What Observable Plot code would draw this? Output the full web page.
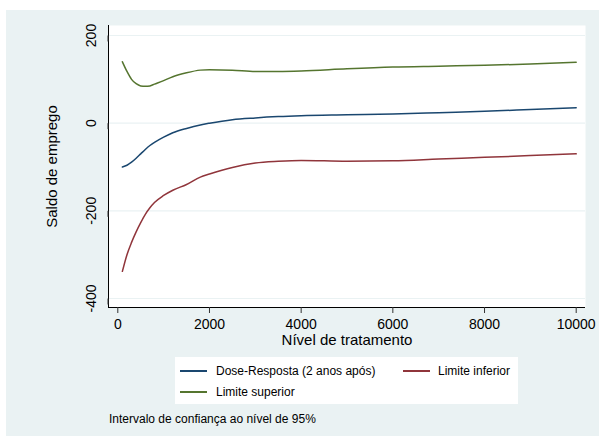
<!DOCTYPE html>
<html>
<head>
<meta charset="utf-8">
<script src="https://cdn.jsdelivr.net/npm/d3@7"></script>
<script src="https://cdn.jsdelivr.net/npm/@observablehq/plot@0.6"></script>
<style>
  html, body { margin: 0; padding: 0; background: #fff; }
  #wrap { position: relative; width: 599px; height: 436px; overflow: hidden; background: #fff;
          font-family: "Liberation Sans", Arial, sans-serif; color: #000; }
  #bg { position: absolute; left: 6px; top: 10px; width: 593px; height: 426px; background: #eaf2f3; }
  #chart { position: absolute; left: 0; top: 0; }
  #chart svg { background: transparent !important; }
  #legend { position: absolute; left: 175px; top: 357px; width: 343px; height: 47px; background: #fff; }
  .sw { position: absolute; height: 1.6px; width: 27px; }
  .lt { position: absolute; font-size: 12px; line-height: 14px; white-space: nowrap; }
  #caption { position: absolute; left: 109px; top: 412px; font-size: 12px; line-height: 14px; white-space: nowrap; }
</style>
</head>
<body>
<div id="wrap">
  <div id="bg"></div>
  <div id="chart"></div>
  <div id="legend"></div>
  <div id="caption"></div>
</div>
<script>
// ---- Data ----
const nivel = [100, 200, 300, 400, 500, 600, 700, 800, 1000, 1200, 1500, 1800, 2000, 2500, 3000, 3500, 4000, 5000, 6000, 7000, 8000, 9000, 10000];
const doseResposta = [-100, -96, -89, -80, -70, -60, -51, -44, -32, -22, -12, -4, 0, 8, 12, 15, 17, 19, 21, 24, 27, 31, 35];
const limiteInferior = [-338, -300, -272, -248, -227, -208, -193, -181, -165, -153, -140, -123, -116, -101, -91, -87, -85, -87, -86, -82, -78, -74, -70];
const limiteSuperior = [140, 118, 100, 90, 85, 84, 85, 89, 97, 106, 115, 121, 122, 121, 118, 118, 119, 124, 128, 130, 132, 135, 139];

const xTicks = [0, 2000, 4000, 6000, 8000, 10000];
const yTicks = [200, 0, -200, -400];

const seriesNames = ["Dose-Resposta (2 anos após)", "Limite inferior", "Limite superior"];
const seriesColors = ["#1a476f", "#90353b", "#55752f"];
const xTitle = "Nível de tratamento";
const yTitle = "Saldo de emprego";
const captionText = "Intervalo de confiança ao nível de 95%";

const seriesValues = [doseResposta, limiteInferior, limiteSuperior];
const rows = seriesNames.flatMap((s, i) => nivel.map((x, j) => ({serie: s, x, y: seriesValues[i][j]})));

const font = '"Liberation Sans", Arial, sans-serif';

const chart = Plot.plot({
  width: 599,
  height: 352,
  marginLeft: 108,
  marginRight: 14,
  marginTop: 25,
  marginBottom: 45,
  style: {fontFamily: font, background: "transparent", color: "#000"},
  x: {domain: [-203, 10203]},
  y: {domain: [-420.5, 222.8]},
  color: {domain: seriesNames, range: seriesColors},
  marks: [
    Plot.frame({fill: "#fff", stroke: "none"}),
    Plot.gridY(yTicks, {stroke: "#eaf2f3", strokeOpacity: 1, strokeWidth: 1.2}),
    Plot.ruleX([-203], {stroke: "#000", strokeWidth: 1}),
    Plot.ruleY([-420.5], {stroke: "#000", strokeWidth: 1}),
    Plot.axisX({ticks: xTicks, tickSize: 6, tickPadding: 5.5, tickFormat: d => String(d),
                fontSize: 14, label: null, stroke: "#333"}),
    Plot.axisY({ticks: yTicks, tickSize: 6, tickPadding: 11, tickFormat: d => String(d),
                fontSize: 14, rotate: -90, textAnchor: "middle", label: null, stroke: "#333"}),
    Plot.line(rows, {x: "x", y: "y", z: "serie", stroke: "serie", strokeWidth: 1.5, curve: "monotone-x"}),
    Plot.text([xTitle], {frameAnchor: "bottom", dy: 33, lineAnchor: "middle", textAnchor: "middle", fontSize: 15, fill: "#000"}),
    Plot.text([yTitle], {frameAnchor: "left", dx: -56, rotate: -90, lineAnchor: "middle", textAnchor: "middle", fontSize: 15, fill: "#000"})
  ]
});
document.getElementById("chart").appendChild(chart);

// ---- Legend (HTML, below the SVG) ----
const legend = document.getElementById("legend");
const legendPos = [
  {sx: 5, tx: 41, cy: 14},     // Dose-Resposta
  {sx: 228, tx: 263, cy: 14},  // Limite inferior
  {sx: 5, tx: 41, cy: 35}      // Limite superior
];
seriesNames.forEach((name, i) => {
  const p = legendPos[i];
  const sw = document.createElement("div");
  sw.className = "sw";
  sw.style.left = p.sx + "px";
  sw.style.top = (p.cy - 0.8) + "px";
  sw.style.background = seriesColors[i];
  legend.appendChild(sw);
  const t = document.createElement("div");
  t.className = "lt";
  t.style.left = p.tx + "px";
  t.style.top = (p.cy - 7) + "px";
  t.textContent = name;
  legend.appendChild(t);
});
document.getElementById("caption").textContent = captionText;
</script>
</body>
</html>
